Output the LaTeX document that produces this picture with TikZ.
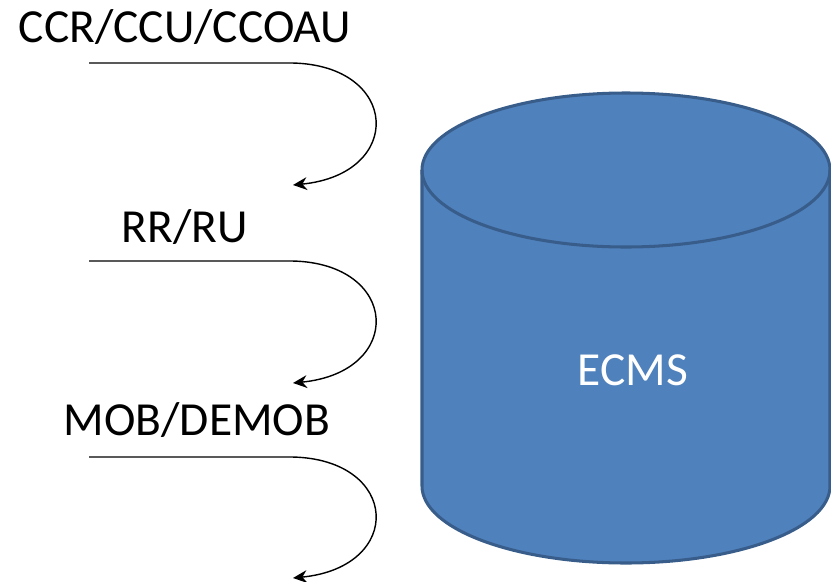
\documentclass[tikz,border=0pt]{standalone}
\usepackage{fontspec}
\setmainfont{Carlito}
\usetikzlibrary{arrows.meta}
\definecolor{dbfill}{HTML}{4F81BD}
\definecolor{dbline}{HTML}{385D8A}
\tikzset{
  lbl/.style={anchor=base, inner sep=0pt, font=\fontsize{40.5}{48}\selectfont},
  flow/.style={line width=1.2pt, -{Stealth[length=12pt,width=11pt,inset=4pt]}},
}
\begin{document}
\begin{tikzpicture}[x=0.03cm, y=-0.03cm]
  \useasboundingbox (0,0) rectangle (831,582);
  % database
  \fill[dbfill] (422,170) -- (422,486) arc[start angle=180, end angle=0, x radius=204, y radius=77]
        -- (830,170) arc[start angle=0, end angle=-180, x radius=204, y radius=77] -- cycle;
  \draw[dbline, line width=2.6pt] (422,170) -- (422,486) arc[start angle=180, end angle=0, x radius=204, y radius=77]
        -- (830,170);
  \draw[dbline, line width=2.6pt] (626,170) ellipse[x radius=204, y radius=77];
  \node (ecms) [lbl, text=white] at (633,385) {ECMS};
  % labels
  \node (ccr) [lbl] at (185,42) {CCR/CCU/CCOAU};
  \node (rr) [lbl] at (185,242) {RR/RU};
  \node (mob) [lbl] at (197,435) {MOB/DEMOB};
  % arrows
  \coordinate (s1) at (89,63);   \coordinate (b1) at (292,63);  \coordinate (e1) at (293,185);
  \coordinate (s2) at (89,261);  \coordinate (b2) at (292,261); \coordinate (e2) at (293,383);
  \coordinate (s3) at (89,457);  \coordinate (b3) at (292,457); \coordinate (e3) at (293,578);
  \draw[flow] (s1) -- (b1) .. controls (400,65) and (405,174) .. (e1);
  \draw[flow] (s2) -- (b2) .. controls (400,263) and (405,372) .. (e2);
  \draw[flow] (s3) -- (b3) .. controls (400,459) and (405,567) .. (e3);
\end{tikzpicture}
\end{document}
